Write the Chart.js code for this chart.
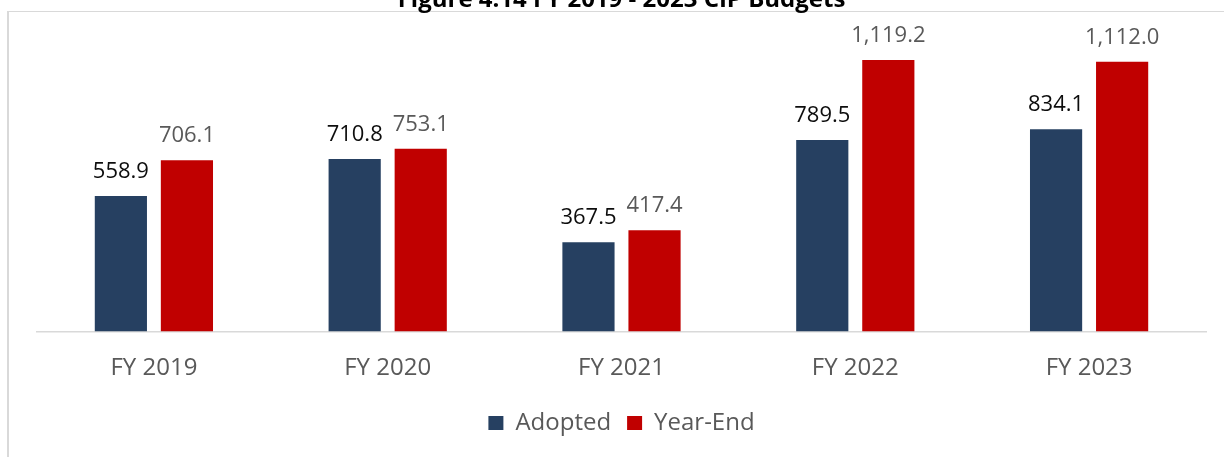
<!DOCTYPE html>
<html>
<head>
<meta charset="utf-8">
<script src="https://cdn.jsdelivr.net/npm/chart.js@4/dist/chart.umd.min.js"></script>
<style>
  html, body { margin: 0; padding: 0; background: #fff; overflow: hidden; }
  body { width: 1224px; height: 457px; position: relative; }
  #frame {
    position: absolute; left: 7px; top: 11px; width: 1240px; height: 470px;
    border-top: 1.5px solid #d9d9d9; border-left: 2px solid #d9d9d9;
  }
  #wrap { position: absolute; left: 0; top: -30px; width: 1224px; height: 487px; }
</style>
</head>
<body>
<div id="frame"></div>
<div id="wrap"><canvas id="budgetChart"></canvas></div>
<script>
// CIP budget figure: adopted vs year-end, FY 2019 - 2023 ($ millions)
const categories = ["FY 2019", "FY 2020", "FY 2021", "FY 2022", "FY 2023"];
const adopted = [558.9, 710.8, 367.5, 789.5, 834.1];
const yearEnd = [706.1, 753.1, 417.4, 1119.2, 1112.0];

const FONT = "'Open Sans', 'Noto Sans', sans-serif";

// Excel-style value labels sitting above each bar
const barLabels = {
  id: "barLabels",
  afterDatasetsDraw(chart) {
    const ctx = chart.ctx;
    ctx.save();
    ctx.font = "22px " + FONT;
    ctx.textAlign = "center";
    ctx.textBaseline = "alphabetic";
    chart.data.datasets.forEach((ds, i) => {
      const meta = chart.getDatasetMeta(i);
      ctx.fillStyle = ds.labelColor;
      meta.data.forEach((bar, j) => {
        const txt = ds.data[j].toLocaleString("en-US", { minimumFractionDigits: 1, maximumFractionDigits: 1 });
        ctx.fillText(txt, bar.x, bar.y - 18);
      });
    });
    ctx.restore();
  }
};

new Chart(document.getElementById("budgetChart"), {
  type: "bar",
  data: {
    labels: categories,
    datasets: [
      {
        label: "Adopted",
        data: adopted,
        backgroundColor: "#264061",
        labelColor: "#0d0d0d",
        barPercentage: 0.79,
        categoryPercentage: 0.565
      },
      {
        label: "Year-End",
        data: yearEnd,
        backgroundColor: "#c00000",
        labelColor: "#595959",
        barPercentage: 0.79,
        categoryPercentage: 0.565
      }
    ]
  },
  options: {
    responsive: true,
    maintainAspectRatio: false,
    animation: false,
    layout: { padding: { left: 37, right: 18, top: 0, bottom: 12 } },
    plugins: {
      title: {
        display: true,
        text: "Figure 4.14 FY 2019 - 2023 CIP Budgets",
        color: "#000",
        font: { family: FONT, size: 24, weight: "bold" },
        padding: { top: 16, bottom: 1.4 }
      },
      legend: {
        position: "bottom",
        labels: {
          color: "#595959",
          font: { family: FONT, size: 24 },
          boxWidth: 15,
          boxHeight: 14,
          padding: 16
        }
      },
      tooltip: { enabled: false }
    },
    scales: {
      x: {
        grid: { display: false, drawTicks: false },
        border: { color: "#d9d9d9", width: 1.5 },
        ticks: {
          color: "#595959",
          font: { family: FONT, size: 24 },
          padding: 22
        },
        afterFit(scale) { scale.height = 63.5; }
      },
      y: {
        display: false,
        min: 0,
        max: 1300
      }
    }
  },
  plugins: [barLabels]
});
</script>
</body>
</html>
